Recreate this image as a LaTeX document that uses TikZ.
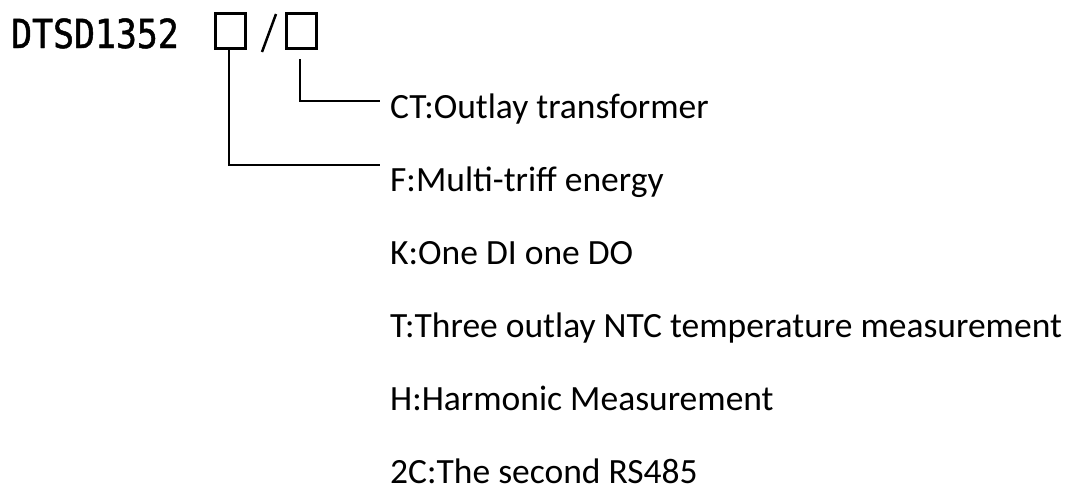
\documentclass[tikz,border=0pt]{standalone}
\usepackage{fontspec}
\setmainfont{Carlito}
\newfontfamily\titlefont[FakeStretch=0.87,FakeBold=1.2]{DejaVu Sans Mono}
\usepackage{tikz}
\usetikzlibrary{calc}

\tikzset{
  optbox/.style={draw, line width=3pt, minimum width=30pt, minimum height=35pt, inner sep=0pt},
  optlabel/.style={anchor=base west, inner sep=0pt, font=\fontsize{35.5}{36}\selectfont},
  leader/.style={line width=2pt}
}

\begin{document}
\begin{tikzpicture}[x=1pt, y=-1pt]
  \pgfmathsetmacro{\xmax}{1081}
  \pgfmathsetmacro{\ymax}{493}
  \pgfmathsetmacro{\labx}{390}
  \pgfmathsetmacro{\gap}{73}
  \useasboundingbox (0,0) rectangle (\xmax,\ymax);

  \node[anchor=base west, inner sep=0pt, font=\titlefont\fontsize{40}{40}\selectfont] (model) at (11,48) {DTSD1352};
  \node[optbox] (boxA) at (230,31) {};
  \node[optbox] (boxB) at (301,31) {};
  \draw[line width=2.5pt] (262,52) -- (276,14);

  \node[optlabel] (lblCT) at (\labx,118) {CT:Outlay transformer};
  \node[optlabel] (lblF) at (\labx,{118+\gap}) {F:Multi-triff energy};
  \foreach \name/\txt [count=\i] in {K/K:One DI one DO,
      T/T:Three outlay NTC temperature measurement,
      H/H:Harmonic Measurement,
      C/2C:The second RS485}{
    \node[optlabel] (lbl\name) at (\labx,{118+(\i+1)*\gap}) {\txt};
  };

  \coordinate (tipB) at ($(boxB.south)+(-1,9)$);
  \draw[leader] (tipB) |- ($(lblCT.base west)+(-10,-17)$);
  \draw[leader] ($(boxA.south)+(-1,0)$) |- ($(lblF.base west)+(-10,-26)$);
\end{tikzpicture}
\end{document}
